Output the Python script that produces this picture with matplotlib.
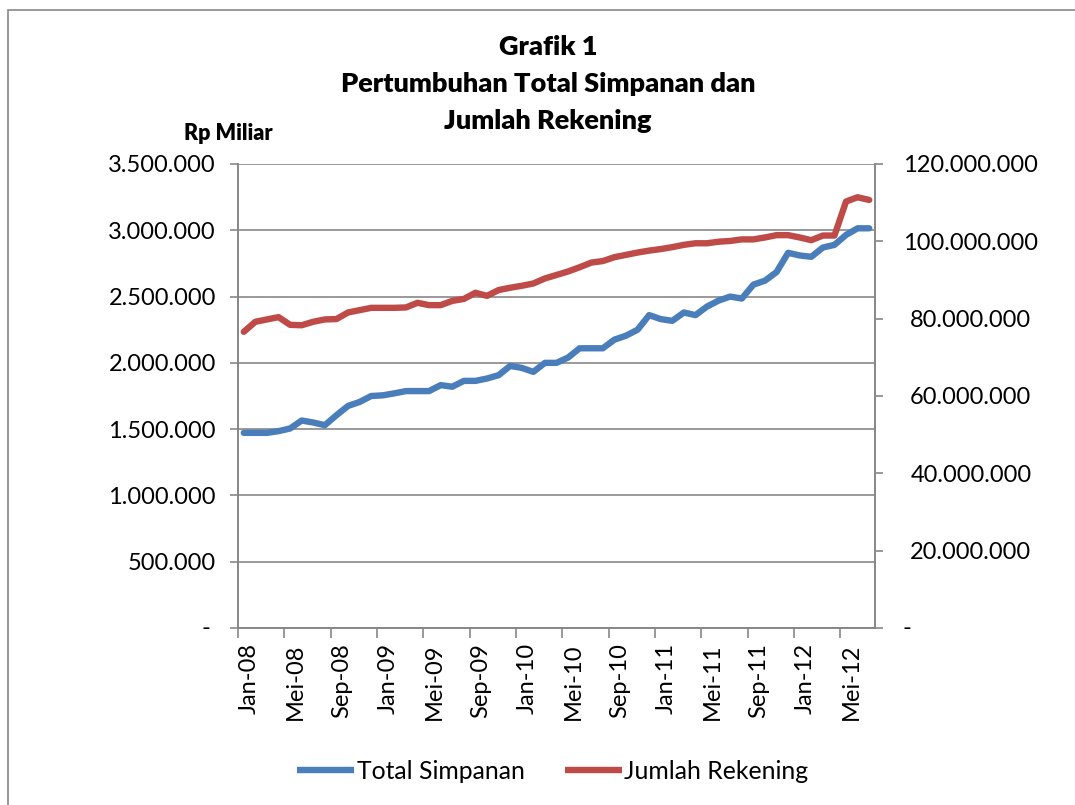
import matplotlib
matplotlib.use("Agg")
import matplotlib.pyplot as plt
from matplotlib.patches import Rectangle
from matplotlib.ticker import FixedLocator, NullFormatter

# ---------------- data ----------------
month_names = ["Jan", "Feb", "Mar", "Apr", "Mei", "Jun", "Jul", "Agu", "Sep", "Okt", "Nov", "Des"]
months = [f"{month_names[m]}-{y:02d}" for y in range(8, 13) for m in range(12)][:55]

total_simpanan = [1472000, 1472000, 1472000, 1485000, 1505000, 1565000, 1550000, 1530000,
                  1605000, 1675000, 1705000, 1750000, 1755000, 1770000, 1787000, 1787000,
                  1787000, 1832000, 1820000, 1864000, 1864000, 1882000, 1907000, 1977000,
                  1962000, 1932000, 2000000, 2000000, 2040000, 2110000, 2110000, 2110000,
                  2175000, 2205000, 2250000, 2360000, 2330000, 2317000, 2380000, 2360000,
                  2425000, 2470000, 2500000, 2485000, 2590000, 2620000, 2685000, 2830000,
                  2810000, 2800000, 2870000, 2890000, 2965000, 3015000, 3015000]

jumlah_rekening = [76.6, 79.2, 79.8, 80.4, 78.4, 78.3, 79.2, 79.8, 79.9, 81.6, 82.2, 82.8,
                   82.8, 82.8, 82.9, 84.1, 83.5, 83.5, 84.6, 85.1, 86.7, 85.9, 87.4, 88.0,
                   88.5, 89.1, 90.4, 91.3, 92.2, 93.3, 94.5, 94.9, 95.9, 96.5, 97.1, 97.6,
                   98.0, 98.5, 99.1, 99.5, 99.5, 99.9, 100.1, 100.5, 100.5, 101.0, 101.6,
                   101.6, 101.0, 100.3, 101.5, 101.5, 110.3, 111.4, 110.7]
jumlah_rekening = [v * 1e6 for v in jumlah_rekening]

left_ticks = [0, 500000, 1000000, 1500000, 2000000, 2500000, 3000000, 3500000]
left_labels = ["", "500.000", "1.000.000", "1.500.000", "2.000.000", "2.500.000",
               "3.000.000", "3.500.000"]
right_ticks = [0, 20e6, 40e6, 60e6, 80e6, 100e6, 120e6]
right_labels = ["", "20.000.000", "40.000.000", "60.000.000", "80.000.000",
                "100.000.000", "120.000.000"]

title_lines = ["Grafik 1", "Pertumbuhan Total Simpanan dan", "Jumlah Rekening"]
series_names = ["Total Simpanan", "Jumlah Rekening"]

# ---------------- style ----------------
BLUE = "#4A7EBB"
RED = "#BE4B48"
GRAY = "#878787"
FONT = ["Lato", "DejaVu Sans"]
plt.rcParams["font.family"] = FONT

W, H = 1075, 805
fig = plt.figure(figsize=(W / 100, H / 100), dpi=100)

# outer chart border
fig.patches.append(Rectangle((8 / W, -0.05), 1.1, 1 - 10 / H + 0.05, transform=fig.transFigure,
                             fill=False, edgecolor=GRAY, linewidth=1.2))

ax = fig.add_axes([238 / W, 1 - 628 / H, (875 - 238) / W, (628 - 164) / H])
ax2 = ax.twinx()

x = list(range(len(months)))
l1, = ax.plot(x, total_simpanan, color=BLUE, lw=4.6, solid_capstyle="round",
              solid_joinstyle="round", zorder=3)
l2, = ax2.plot(x, jumlah_rekening, color=RED, lw=4.6, solid_capstyle="round",
               solid_joinstyle="round", zorder=3)

ax.set_xlim(-0.5, len(months) - 0.5)
ax.set_ylim(0, 3500000)
ax2.set_ylim(0, 120e6)

# x ticks: marks at category boundaries, labels at category centres
major = [i - 0.5 for i in range(0, len(months), 4)]
ax.xaxis.set_major_locator(FixedLocator(major))
ax.xaxis.set_major_formatter(NullFormatter())
ax.xaxis.set_minor_locator(FixedLocator([i + 0.45 for i in range(0, len(months), 4)]))
ax.set_xticklabels([months[i] for i in range(0, len(months), 4)], minor=True,
                   rotation=90, fontsize=17, va="top", ha="center")
ax.tick_params(axis="x", which="major", direction="out", length=7, width=1.2, color=GRAY)
ax.tick_params(axis="x", which="minor", length=0, pad=11)

ax.set_yticks(left_ticks)
ax.set_yticklabels(left_labels, fontsize=17)
ax.tick_params(axis="y", direction="out", length=6, width=1.2, color=GRAY, pad=10)

ax2.set_yticks(right_ticks)
ax2.set_yticklabels(right_labels, fontsize=17, ha="center")
ax2.tick_params(axis="y", direction="out", length=6, width=1.2, color=GRAY, pad=63)

ax.grid(axis="y", color=GRAY, lw=1.2, zorder=1)
ax.set_axisbelow(True)
for a in (ax, ax2):
    a.spines["top"].set_visible(False)
    for s in ("left", "right", "bottom"):
        a.spines[s].set_color(GRAY)
        a.spines[s].set_linewidth(1.2)

# zero labels shown as dashes
fig.text(206 / W, 1 - 628 / H, "-", fontsize=17, ha="center", va="center")
fig.text(907 / W, 1 - 628 / H, "-", fontsize=17, ha="center", va="center")

# titles
for line, yc in zip(title_lines, [47, 84, 121]):
    fig.text(548 / W, 1 - yc / H, line, fontweight="heavy", fontsize=19.5,
             ha="center", va="center")
fig.text(228 / W, 1 - 133 / H, "Rp Miliar", fontweight="heavy", fontsize=15.5,
         ha="center", va="center")

leg = fig.legend([l1, l2], series_names, loc="center", bbox_to_anchor=(553 / W, 1 - 771 / H),
                 ncol=2, frameon=False, fontsize=17.8, handlelength=2.3, handletextpad=0.12,
                 columnspacing=1.6)
for h in leg.get_lines():
    h.set_linewidth(4.6)
    h.set_solid_capstyle("butt")

fig.savefig("out.png", dpi=100)
